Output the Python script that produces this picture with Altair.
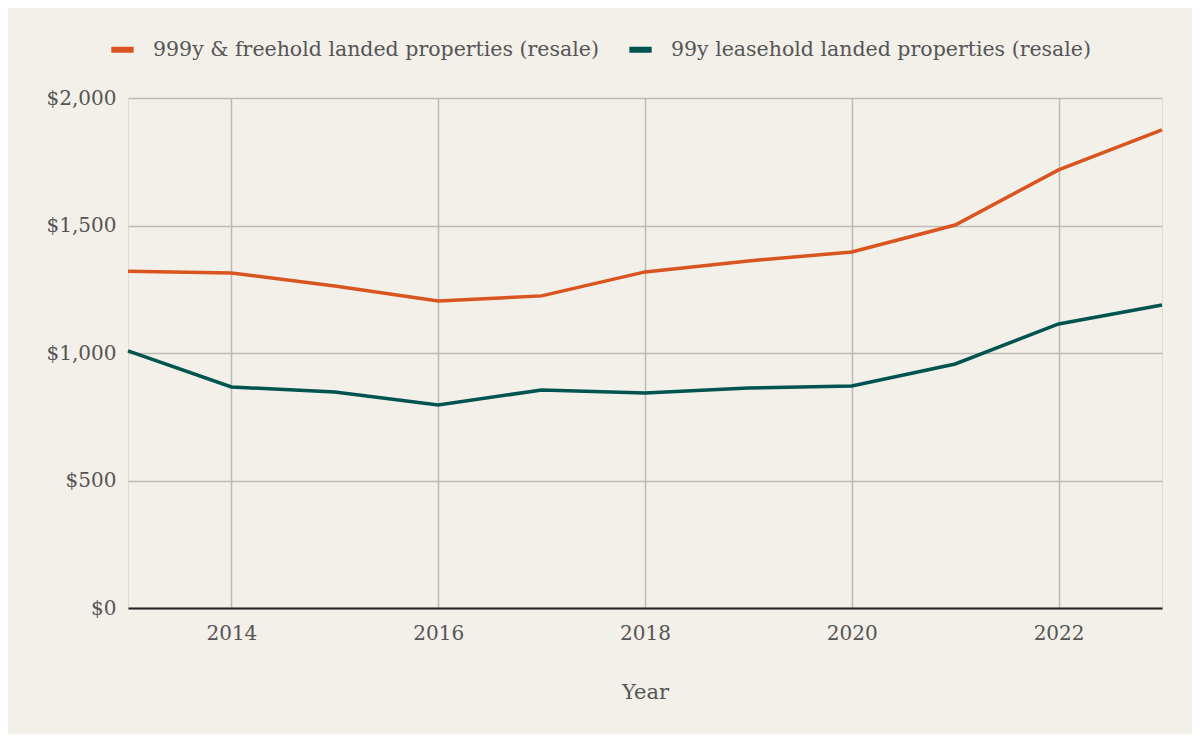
import altair as alt
import pandas as pd

years = list(range(2013, 2024))
freehold = [1321, 1314, 1263, 1204, 1224, 1318, 1361, 1396, 1502, 1718, 1875]
leasehold = [1008, 867, 847, 796, 855, 843, 863, 871, 957, 1114, 1188]
series_names = ["999y & freehold landed properties (resale)", "99y leasehold landed properties (resale)"]
colors = ["#d9541e", "#00544f"]

rows = []
for name, vals in zip(series_names, [freehold, leasehold]):
    for y, v in zip(years, vals):
        rows.append({"Year": y, "Price": v, "Series": name})
df = pd.DataFrame(rows)

FONT = "Georgia, 'DejaVu Serif', serif"

chart = alt.Chart(df).mark_line(strokeWidth=3.5).encode(
    x=alt.X("Year:Q", scale=alt.Scale(domain=[2013, 2023], nice=False, zero=False),
            axis=alt.Axis(values=[2014, 2016, 2018, 2020, 2022], format="d", ticks=False,
                          labelPadding=15, titlePadding=38, domainColor="#222222",
                          domainWidth=2, gridColor="#bdb9b4", gridWidth=1.5,
                          labelFontSize=20, titleFontSize=21, titleFontWeight="normal")),
    y=alt.Y("Price:Q", scale=alt.Scale(domain=[0, 2000], nice=False),
            axis=alt.Axis(values=[0, 500, 1000, 1500, 2000], format="$,.0f", title=None,
                          ticks=False, domain=False, labelPadding=12, gridColor="#bdb9b4",
                          gridWidth=1.5, labelFontSize=20)),
    color=alt.Color("Series:N", scale=alt.Scale(domain=series_names, range=colors),
                    legend=alt.Legend(title=None, orient="none", legendX=-20, legendY=-63,
                                      direction="horizontal", labelFontSize=20.5,
                                      labelLimit=700,
                                      symbolType="stroke", symbolSize=500,
                                      symbolStrokeWidth=6,
                                      columnPadding=18, labelOffset=16)),
).properties(
    width=1034, height=510,
    background="#f3efe9",
    padding={"left": 120, "top": 90, "right": 30, "bottom": 126},
    autosize=alt.AutoSizeParams(type="none"),
).configure_view(stroke=None).configure(
    font=FONT
).configure_axis(
    labelColor="#555555", titleColor="#555555", labelFont=FONT, titleFont=FONT
).configure_legend(
    labelColor="#555555", labelFont=FONT
)

chart.save("out.html", embed_options={"renderer": "svg", "actions": False})
